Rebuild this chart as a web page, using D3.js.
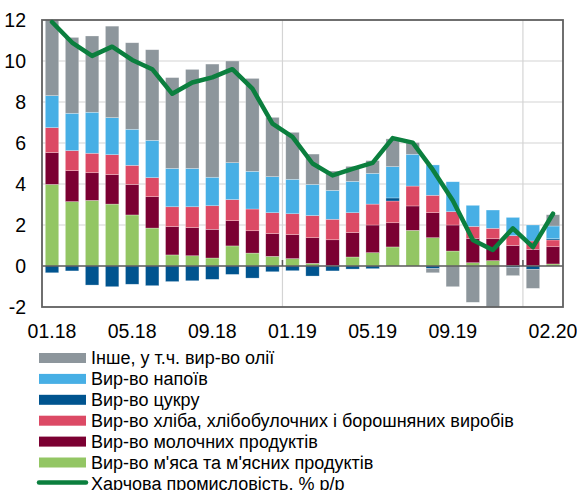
<!DOCTYPE html>
<html>
<head>
<meta charset="utf-8">
<script src="https://cdn.jsdelivr.net/npm/d3@7"></script>
<style>
  body { margin: 0; background: #fff; }
  text { font-family: "Liberation Sans", Arial, sans-serif; fill: #000; }
</style>
</head>
<body>
<script>
// months on the x axis
var months = ['01.18','02.18','03.18','04.18','05.18','06.18','07.18','08.18','09.18','10.18','11.18','12.18',
              '01.19','02.19','03.19','04.19','05.19','06.19','07.19','08.19','09.19','10.19','11.19','12.19',
              '01.20','02.20'];
var tickLabels = ['01.18','05.18','09.18','01.19','05.19','09.19','02.20'];
var yTicks = [-2, 0, 2, 4, 6, 8, 10, 12];

// contributions, p.p.
var meat   = [3.98,3.14,3.2,3.02,2.49,1.85,0.54,0.5,0.39,0.98,0.63,0.47,0.36,0.13,0.02,0.44,0.65,0.93,1.74,1.38,0.73,0.16,0.26,0.02,0.02,0.1];
var dairy  = [1.55,1.51,1.35,1.44,1.49,1.53,1.38,1.37,1.4,1.23,1.09,1.11,1.17,1.25,1.26,1.19,1.35,1.18,1.19,1.22,1.27,1.19,1.07,0.98,0.79,0.84];
var bread  = [1.22,0.98,0.95,0.97,0.93,0.93,0.97,1.02,1.15,1.03,1.06,1.02,1.02,1.08,1.0,0.97,1.02,1.06,0.97,0.85,0.65,0.58,0.51,0.48,0.41,0.33];
var sugar  = [-0.33,-0.24,-0.93,-1.01,-0.89,-0.96,-0.76,-0.72,-0.65,-0.41,-0.59,-0.28,-0.23,-0.49,-0.24,-0.15,-0.13,0.15,0,-0.13,0,0,0,-0.08,-0.16,0.06];
var drinks = [1.56,1.82,2.0,1.81,1.76,1.82,1.87,1.87,1.39,1.8,1.84,1.76,1.68,1.52,1.41,1.53,1.5,1.53,1.55,1.48,1.46,1.03,0.89,0.89,0.78,0.62];
var other  = [3.7,3.7,3.72,4.46,4.22,4.42,4.43,4.83,5.52,4.96,4.53,2.89,2.29,1.48,0.94,0.73,0.62,1.35,0.57,-0.2,-1.01,-1.77,-2.0,-0.39,-0.93,0.55];
// food industry total, % y/y
var total  = [11.9,10.9,10.25,10.7,10.05,9.6,8.4,8.95,9.2,9.6,8.65,6.95,6.3,5.0,4.42,4.74,5.03,6.24,6.02,4.7,3.2,1.27,0.78,1.84,0.92,2.55];

var series = [
  {key: 'meat',   name: 'Вир-во м\'яса та м\'ясних продуктів', color: '#93c664', values: meat},
  {key: 'dairy',  name: 'Вир-во молочних продуктів', color: '#7b0032', values: dairy},
  {key: 'bread',  name: 'Вир-во хліба, хлібобулочних і борошняних виробів', color: '#dc4a65', values: bread},
  {key: 'sugar',  name: 'Вир-во цукру', color: '#00548f', values: sugar},
  {key: 'drinks', name: 'Вир-во напоїв', color: '#47afe5', values: drinks},
  {key: 'other',  name: 'Інше, у т.ч. вир-во олії', color: '#8d969c', values: other}
];
var lineName = 'Харчова промисловість, % р/р';
var lineColor = '#0b7f3e';

var width = 577, height = 490;
var plotL = 42, plotR = 563, plotT = 20, plotB = 307;

var rows = months.map(function(m, i) {
  var r = {month: m};
  series.forEach(function(s) { r[s.key] = s.values[i]; });
  return r;
});

var stack = d3.stack()
  .keys(series.map(function(s) { return s.key; }))
  .offset(d3.stackOffsetDiverging);
var stacked = stack(rows);

var x = d3.scaleBand().domain(months).range([plotL, plotR]).paddingInner(0.33).paddingOuter(0.165);
var y = d3.scaleLinear().domain([-2, 12]).range([plotB, plotT]);

var svg = d3.select('body').append('svg')
  .attr('width', width)
  .attr('height', height);

// horizontal gridlines
svg.append('g').selectAll('line')
  .data(yTicks.filter(function(d) { return d > -2 && d < 12 && d !== 0; }))
  .enter().append('line')
    .attr('x1', plotL).attr('x2', plotR)
    .attr('y1', function(d) { return y(d); })
    .attr('y2', function(d) { return y(d); })
    .attr('stroke', '#d4d4d4')
    .attr('stroke-width', 1.2);

// vertical gridlines at year boundaries
var step = x.step();
var yearStarts = ['01.19', '01.20'];
svg.append('g').selectAll('line')
  .data(yearStarts)
  .enter().append('line')
    .attr('x1', function(d) { return x(d) - step * x.paddingInner() / 2; })
    .attr('x2', function(d) { return x(d) - step * x.paddingInner() / 2; })
    .attr('y1', plotT).attr('y2', plotB)
    .attr('stroke', '#d4d4d4')
    .attr('stroke-width', 1.2);

// stacked bars
svg.append('g').selectAll('g')
  .data(stacked)
  .enter().append('g')
    .attr('fill', function(d, i) { return series[i].color; })
  .selectAll('rect')
  .data(function(d) { return d; })
  .enter().append('rect')
    .attr('x', function(d) { return x(d.data.month); })
    .attr('width', x.bandwidth())
    .attr('y', function(d) { return y(Math.max(d[0], d[1])); })
    .attr('height', function(d) { return Math.abs(y(d[0]) - y(d[1])); })
    .attr('stroke', '#ffffff')
    .attr('stroke-opacity', 0.45)
    .attr('stroke-width', 0.6);

// zero line + small ticks at year boundaries
svg.append('line')
  .attr('x1', plotL).attr('x2', plotR)
  .attr('y1', y(0)).attr('y2', y(0))
  .attr('stroke', '#595959')
  .attr('stroke-width', 1.5);
svg.append('g').selectAll('line')
  .data(yearStarts)
  .enter().append('line')
    .attr('x1', function(d) { return x(d) - step * x.paddingInner() / 2; })
    .attr('x2', function(d) { return x(d) - step * x.paddingInner() / 2; })
    .attr('y1', y(0) - 6).attr('y2', y(0))
    .attr('stroke', '#595959')
    .attr('stroke-width', 1.5);

// plot border
svg.append('rect')
  .attr('x', plotL).attr('y', plotT)
  .attr('width', plotR - plotL).attr('height', plotB - plotT)
  .attr('fill', 'none')
  .attr('stroke', '#606060')
  .attr('stroke-width', 1.8);

// total line
var line = d3.line()
  .x(function(d, i) { return x(months[i]) + x.bandwidth() / 2; })
  .y(function(d) { return y(d); });
svg.append('path')
  .datum(total)
  .attr('d', line)
  .attr('fill', 'none')
  .attr('stroke', lineColor)
  .attr('stroke-width', 4.5)
  .attr('stroke-linejoin', 'round')
  .attr('stroke-linecap', 'round');

// y axis labels
svg.append('g').selectAll('text')
  .data(yTicks)
  .enter().append('text')
    .attr('x', 26)
    .attr('y', function(d) { return y(d); })
    .attr('dy', '0.36em')
    .attr('text-anchor', 'end')
    .style('font-size', '19.5px')
    .text(function(d) { return d; });

// x axis labels
svg.append('g').selectAll('text')
  .data(tickLabels)
  .enter().append('text')
    .attr('x', function(d) { return x(d) + x.bandwidth() / 2; })
    .attr('y', 338)
    .attr('text-anchor', 'middle')
    .style('font-size', '19.5px')
    .text(function(d) { return d; });

// legend (top to bottom: reverse stack order, then line)
var legendItems = series.slice().reverse();
var legend = svg.append('g').attr('transform', 'translate(39, 358)');
var rowH = 20.9;
legendItems.forEach(function(s, i) {
  legend.append('rect')
    .attr('x', 0).attr('y', i * rowH - 5)
    .attr('width', 47).attr('height', 10)
    .attr('fill', s.color);
  legend.append('text')
    .attr('x', 52).attr('y', i * rowH)
    .attr('dy', '0.36em')
    .style('font-size', '18px')
    .text(s.name);
});
var li = legendItems.length;
legend.append('line')
  .attr('x1', 0).attr('x2', 47)
  .attr('y1', li * rowH - 1).attr('y2', li * rowH - 1)
  .attr('stroke', lineColor)
  .attr('stroke-width', 4.5)
  .attr('stroke-linecap', 'round');
legend.append('text')
  .attr('x', 52).attr('y', li * rowH)
  .attr('dy', '0.36em')
  .style('font-size', '18px')
  .text(lineName);
</script>
</body>
</html>
